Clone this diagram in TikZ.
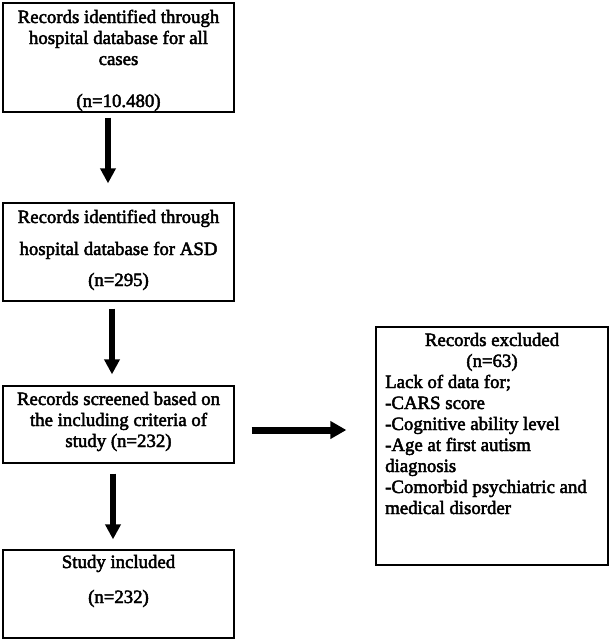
\documentclass[tikz,border=0pt]{standalone}
\usepackage{fontspec}
\setmainfont{Liberation Serif}
\newfontfamily\heavyfont{Liberation Serif}[FakeBold=2.5]
\usetikzlibrary{arrows.meta}
\begin{document}
\begin{tikzpicture}[x=1pt,y=-1pt,
  box/.style={draw=black,line width=1.3pt,inner sep=0pt,rectangle},
  txt/.style={anchor=base,inner sep=0pt,font=\heavyfont\fontsize{18.8}{21}\selectfont},
  ltxt/.style={anchor=base west,inner sep=0pt,font=\heavyfont\fontsize{18.8}{21}\selectfont},
  arr/.style={line width=6pt,-{Triangle[width=15pt,length=15pt]}},
  harr/.style={line width=7pt,-{Triangle[width=17pt,length=16pt]}}]
\useasboundingbox (0,0) rectangle (611,641);
% boxes
\node[box,minimum width=231pt,minimum height=109pt] (b1) at (118.5,57.5) {};
\node[box,minimum width=231pt,minimum height=98pt] (b2) at (118.5,252) {};
\node[box,minimum width=231pt,minimum height=77pt] (b3) at (118.5,424.5) {};
\node[box,minimum width=231pt,minimum height=88pt] (b4) at (118.5,594) {};
\node[box,minimum width=232pt,minimum height=238pt] (b5) at (492,446) {};
% box 1 text
\node[txt] (t11) at (118.5,23) {Records identified through};
\node[txt] (t12) at (118.5,44) {hospital database for all};
\node[txt] (t13) at (118.5,65) {cases};
\node[txt] (t14) at (118.5,107) {(n=10.480)};
% box 2 text
\node[txt] (t21) at (118.5,223) {Records identified through};
\node[txt] (t22) at (118.5,255) {hospital database for ASD};
\node[txt] (t23) at (118.5,286) {(n=295)};
% box 3 text
\node[txt] (t31) at (118.5,405) {Records screened based on};
\node[txt] (t32) at (118.5,426) {the including criteria of};
\node[txt] (t33) at (118.5,447) {study (n=232)};
% box 4 text
\node[txt] (t41) at (118.5,568) {Study included};
\node[txt] (t42) at (118.5,603) {(n=232)};
% box 5 text
\node[txt] (t51) at (492,346) {Records excluded};
\node[txt] (t52) at (492,367) {(n=63)};
\node[ltxt] (t53) at (385,388) {Lack of data for;};
\node[ltxt] (t54) at (385,409) {-CARS score};
\node[ltxt] (t55) at (385,430) {-Cognitive ability level};
\node[ltxt] (t56) at (385,451) {-Age at first autism};
\node[ltxt] (t57) at (385,472) {diagnosis};
\node[ltxt] (t58) at (385,493) {-Comorbid psychiatric and};
\node[ltxt] (t59) at (385,514) {medical disorder};
% arrows
\draw[arr,shorten <=5pt,shorten >=19pt] ([xshift=-10.5pt]b1.south) -- ([xshift=-10.5pt]b2.north);
\draw[arr,shorten <=7pt,shorten >=11pt] ([xshift=-6.5pt]b2.south) -- ([xshift=-6.5pt]b3.north);
\draw[arr,shorten <=10pt,shorten >=10pt] ([xshift=-5.5pt]b3.south) -- ([xshift=-5.5pt]b4.north);
\draw[harr,shorten <=17pt,shorten >=29pt] ([yshift=-5.5pt]b3.east) -- ([yshift=-5.5pt]b3.east -| b5.west);
\end{tikzpicture}
\end{document}
